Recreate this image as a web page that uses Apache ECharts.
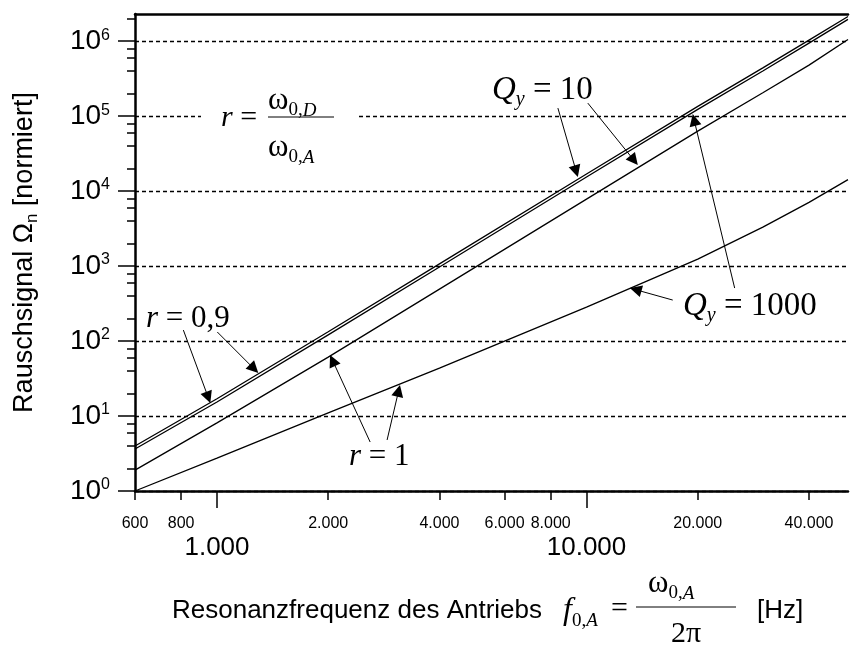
<!DOCTYPE html>
<html>
<head>
<meta charset="utf-8">
<title>Rauschsignal</title>
<script src="https://cdn.jsdelivr.net/npm/echarts@6/dist/echarts.min.js"></script>
<style>
  html, body { margin: 0; padding: 0; background: #fff; }
  #main { width: 850px; height: 646px; }
</style>
</head>
<body>
<div id="main"></div>
<script>
// Resonanzfrequenz des Antriebs [Hz]
var freq = [600, 1000, 2000, 4000, 10000, 20000, 30000, 40000, 51000];
// r = 0,9
var r09Qy10   = [3.98, 17, 133, 1070, 16900, 135000, 440000, 1030000, 2130000];
var r09Qy1000 = [3.63, 15.4, 121, 970, 15400, 123000, 400000, 940000, 1950000];
// r = 1
var r1Qy10    = [1.9, 8.1, 61, 493, 7800, 63000, 205000, 479000, 1050000];
var r1Qy1000  = [1.0, 2.75, 11, 43.6, 283, 1240, 3310, 7070, 14200];

// ticks
var xTicksSmall = [600, 800, 2000, 4000, 6000, 8000, 20000, 40000];
var xTicksBig = [1000, 10000];
var yTicks = [1, 10, 100, 1000, 10000, 100000, 1000000];
var yTicksMinor = [2, 4, 6, 8, 20, 40, 60, 80, 200, 400, 600, 800, 2000, 4000, 6000, 8000,
  20000, 40000, 60000, 80000, 200000, 400000, 600000, 800000, 2000000];

var sans = '"Liberation Sans", Arial, Helvetica, sans-serif';
var serif = '"Liberation Serif", "Times New Roman", serif';

function pairs(ys) {
  return freq.map(function (f, i) { return [f, ys[i]]; });
}
function dotted(v) {
  return String(Math.round(v)).replace(/\B(?=(\d{3})+(?!\d))/g, '.');
}
function curve(name, ys) {
  return {
    name: name, type: 'line', data: pairs(ys),
    showSymbol: false, symbol: 'none', silent: true,
    lineStyle: { color: '#000', width: 1.3 }
  };
}

// pfeile: [von, nach] in datenkoordinaten
var arrows = [
  [[811, 140], [947, 17.7]],
  [[1002, 132], [1260, 42.6]],
  [[2597, 4.5], [2055, 55.1]],
  [[2886, 4.79], [3101, 21.7]],
  [[8366, 127900], [9374, 18400]],
  [[10081, 149000], [13446, 25700]],
  [[25170, 509], [19550, 88900]],
  [[17110, 352], [13580, 484]]
];

function mathText(x, y, text, size, align) {
  var sub = Math.round(size * 0.6);
  return {
    type: 'text', x: x, y: y, z: 20, silent: true,
    style: {
      text: text, fill: '#000', fontFamily: serif, fontSize: size,
      align: align || 'left', verticalAlign: 'middle',
      textAlign: align || 'left', textVerticalAlign: 'middle',
      rich: {
        i: { fontFamily: serif, fontStyle: 'italic', fontSize: size, fill: '#000' },
        s: { fontFamily: serif, fontSize: sub, fill: '#000', padding: [Math.round(size * 0.62), 0, 0, 0] },
        si: { fontFamily: serif, fontStyle: 'italic', fontSize: sub, fill: '#000', padding: [Math.round(size * 0.62), 0, 0, 0] }
      }
    }
  };
}
function bar(x1, x2, y) {
  return { type: 'line', z: 20, silent: true, shape: { x1: x1, y1: y, x2: x2, y2: y },
    style: { stroke: '#000', lineWidth: 1 } };
}

var chart = echarts.init(document.getElementById('main'));

var logX = { type: 'log', logBase: 10, min: 600, max: 51000, gridIndex: 0 };

chart.setOption({
  animation: false,
  backgroundColor: '#fff',
  grid: { left: 135, right: 2, top: 14, bottom: 155 },
  xAxis: [
    Object.assign({}, logX, {
      position: 'bottom',
      axisLine: { show: true, lineStyle: { color: '#000', width: 2.5 } },
      axisTick: { show: true, length: 9, customValues: xTicksSmall, lineStyle: { color: '#000', width: 1.5 } },
      axisLabel: { show: true, customValues: xTicksSmall, margin: 25, fontSize: 16, fontFamily: sans, color: '#000',
        formatter: function (v) { return dotted(v); } },
      splitLine: { show: false }, minorTick: { show: false }
    }),
    Object.assign({}, logX, {
      position: 'bottom',
      axisLine: { show: false },
      axisTick: { show: true, length: 17, customValues: xTicksBig, lineStyle: { color: '#000', width: 1.5 } },
      axisLabel: { show: true, customValues: xTicksBig, margin: 44, fontSize: 26, fontFamily: sans, color: '#000',
        formatter: function (v) { return dotted(v); } },
      splitLine: { show: false }
    }),
    Object.assign({}, logX, {
      position: 'top',
      axisLine: { show: true, lineStyle: { color: '#000', width: 2.5 } },
      axisTick: { show: false }, axisLabel: { show: false }, splitLine: { show: false }
    })
  ],
  yAxis: [
    {
      type: 'log', logBase: 10, min: 1, max: 2300000,
      position: 'left',
      name: 'Rauschsignal Ω{n|n} [normiert]',
      nameLocation: 'middle', nameGap: 94, nameRotate: 90,
      nameTextStyle: { fontSize: 27, fontFamily: sans, color: '#000',
        rich: { n: { fontSize: 17, fontFamily: sans, color: '#000', padding: [15, 0, 0, 0] } } },
      axisLine: { show: true, lineStyle: { color: '#000', width: 2.5 } },
      axisTick: { show: true, length: 17, customValues: yTicks, lineStyle: { color: '#000', width: 1.5 } },
      axisLabel: { show: true, customValues: yTicks, margin: 25, fontSize: 28, fontFamily: sans, color: '#000',
        formatter: function (v) { return '10{s|' + Math.round(Math.log10(v)) + '}'; },
        rich: { s: { fontSize: 16, fontFamily: sans, color: '#000', padding: [0, 0, 12, 0] } } },
      splitLine: { show: true, lineStyle: { color: '#000', width: 1.3, type: [4, 3] } },
      minorTick: { show: false }
    },
    {
      type: 'log', logBase: 10, min: 1, max: 2300000,
      position: 'left',
      axisLine: { show: false },
      axisTick: { show: true, length: 8, customValues: yTicksMinor, lineStyle: { color: '#000', width: 1.5 } },
      axisLabel: { show: false }, splitLine: { show: false }
    }
  ],
  series: [
    Object.assign(curve('r=0,9 Qy=10', r09Qy10), {
      markLine: {
        silent: true, animation: false,
        symbol: ['none', 'triangle'], symbolSize: 12,
        label: { show: false },
        lineStyle: { color: '#000', width: 1, type: 'solid' },
        emphasis: { disabled: true },
        data: arrows.map(function (a) { return [{ coord: a[0] }, { coord: a[1] }]; })
      }
    }),
    curve('r=0,9 Qy=1000', r09Qy1000),
    curve('r=1 Qy=10', r1Qy10),
    curve('r=1 Qy=1000', r1Qy1000)
  ],
  graphic: [
    // r = w0,D / w0,A
    { type: 'rect', z: 15, silent: true, shape: { x: 201, y: 112, width: 155, height: 10 }, style: { fill: '#fff' } },
    mathText(221, 118, '{i|r} =', 30),
    mathText(268, 101, 'ω{s|0,}{si|D}', 31),
    bar(268, 334, 117),
    mathText(268, 148, 'ω{s|0,}{si|A}', 31),
    // kurven-beschriftungen
    mathText(146, 319, '{i|r} = 0,9', 31),
    mathText(349, 457, '{i|r} = 1', 31),
    mathText(492, 90, '{i|Q}{si|y} = 10', 33),
    mathText(683, 306, '{i|Q}{si|y} = 1000', 33),
    // x-achsen titel
    { type: 'text', x: 172, y: 611, z: 20, silent: true,
      style: { text: 'Resonanzfrequenz des Antriebs', fill: '#000', fontFamily: sans, fontSize: 26,
        align: 'left', verticalAlign: 'middle', textAlign: 'left', textVerticalAlign: 'middle' } },
    mathText(563, 611, '{i|f}{s|0,}{si|A}', 32),
    mathText(611, 609, '=', 30),
    mathText(648, 584, 'ω{s|0,}{si|A}', 31),
    bar(636, 736, 607),
    mathText(686, 634, '2π', 30, 'center'),
    { type: 'text', x: 757, y: 611, z: 20, silent: true,
      style: { text: '[Hz]', fill: '#000', fontFamily: sans, fontSize: 26,
        align: 'left', verticalAlign: 'middle', textAlign: 'left', textVerticalAlign: 'middle' } }
  ]
});
</script>
</body>
</html>
